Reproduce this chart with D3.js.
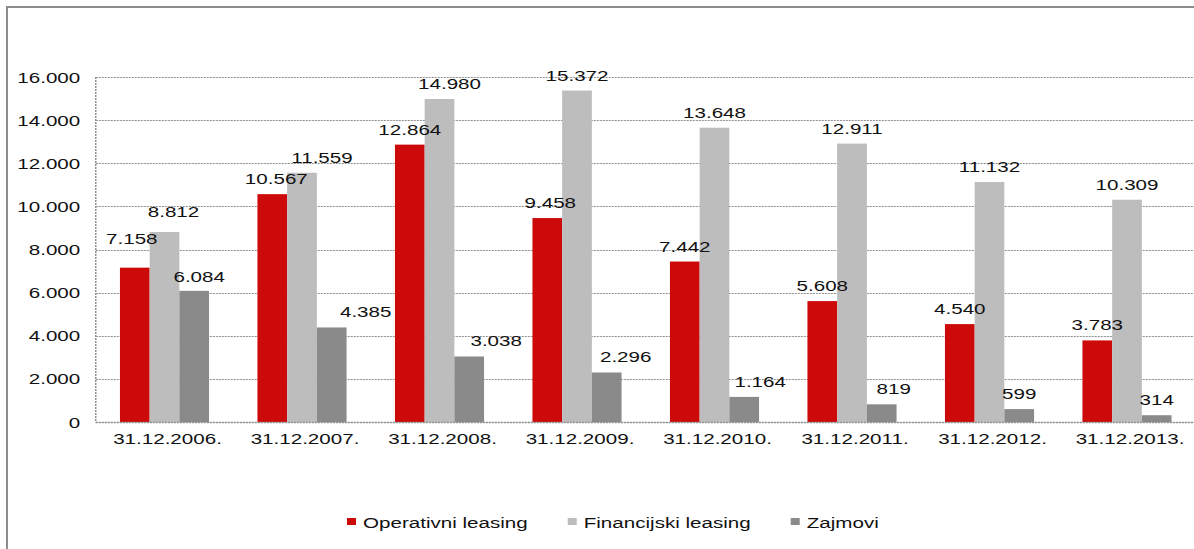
<!DOCTYPE html>
<html>
<head>
<meta charset="utf-8">
<script src="https://cdnjs.cloudflare.com/ajax/libs/d3/7.8.5/d3.min.js"></script>
<style>
  html, body { margin: 0; padding: 0; background: #fff; }
  svg { display: block; }
  text { font-family: "Liberation Sans", Arial, sans-serif; fill: #111; }
</style>
</head>
<body>
<svg id="chart" width="1194" height="549"></svg>
<script>
// Stanje portfelja po godinama
const categories = ["31.12.2006.", "31.12.2007.", "31.12.2008.", "31.12.2009.",
                    "31.12.2010.", "31.12.2011.", "31.12.2012.", "31.12.2013."];
const seriesNames = ["Operativni leasing", "Financijski leasing", "Zajmovi"];
const operativni  = [7158, 10567, 12864, 9458, 7442, 5608, 4540, 3783];
const financijski = [8812, 11559, 14980, 15372, 13648, 12911, 11132, 10309];
const zajmovi     = [6084, 4385, 3038, 2296, 1164, 819, 599, 314];
const yTicks      = [0, 2000, 4000, 6000, 8000, 10000, 12000, 14000, 16000];

const colors = ["#cc0a0a", "#bdbdbd", "#8a8a8a"];
const series = [operativni, financijski, zajmovi];

// hand-placed label offsets [dx, dy] (series-category) where labels were moved
const labelNudge = {
  "0-0": [-3, -14], "1-0": [9, -5], "2-0": [5, 1],
  "0-1": [4, 0], "1-1": [20, 0], "2-1": [34, 0],
  "1-2": [10, 0], "2-2": [27, 0],
  "0-3": [3, 0], "2-3": [19, 0],
  "2-4": [16, 0],
  "2-5": [12, 0]
};

// Brojevi s točkom kao separatorom tisućica
const fmt = d3.formatLocale({ decimal: ",", thousands: ".", grouping: [3], currency: ["", " kn"] }).format(",d");

const svg = d3.select("#chart");
const stretch = 1.42;       // horizontally widened lettering
const fontSize = 14.5;

const margin = { left: 95.75, top: 77, bottom: 422 };
const plotRight = margin.left + 137.5 * categories.length;

// okvir grafikona
svg.append("rect")
  .attr("x", 7).attr("y", 7).attr("width", 1300).attr("height", 700)
  .attr("fill", "none").attr("stroke", "#8c8c8c").attr("stroke-width", 2);

const x = d3.scaleBand().domain(categories).range([margin.left, plotRight]).paddingInner(0).paddingOuter(0);
const y = d3.scaleLinear().domain([0, 16000]).range([margin.bottom, margin.top]);
const barW = 29.7;
const xs = d3.scaleBand().domain(d3.range(series.length))
  .range([0, barW * series.length]);

// gridlines
svg.append("g").selectAll("line").data(yTicks).join("line")
  .attr("x1", margin.left).attr("x2", plotRight)
  .attr("y1", d => Math.round(y(d)) + 0.5).attr("y2", d => Math.round(y(d)) + 0.5)
  .attr("stroke", "#8f8f8f").attr("stroke-width", 1.2)
  .attr("stroke-dasharray", "2,1");

// left axis line
svg.append("line")
  .attr("x1", margin.left).attr("x2", margin.left)
  .attr("y1", y(16000)).attr("y2", y(0))
  .attr("stroke", "#8f8f8f").attr("stroke-width", 1.5)
  .attr("stroke-dasharray", "2,1");

// y tick labels
const yAxis = d3.axisLeft(y).tickValues(yTicks).tickFormat(fmt).tickSize(0);
const yg = svg.append("g").attr("transform", `translate(${margin.left},0)`).call(yAxis);
yg.select(".domain").remove();
yg.selectAll(".tick text").each(function () {
  const t = d3.select(this);
  t.attr("x", 0).attr("y", 0).attr("dy", "0.35em")
   .attr("transform", `translate(-15.5,0) scale(${stretch},1)`)
   .attr("fill", "#111").attr("font-family", null).attr("font-size", null)
   .style("font-size", fontSize + "px");
});

// category labels
const xAxis = d3.axisBottom(x).tickSize(0).tickPadding(0);
const xg = svg.append("g").attr("transform", `translate(0,${margin.bottom})`).call(xAxis);
xg.select(".domain").remove();
xg.selectAll(".tick text").each(function () {
  d3.select(this).attr("y", 0).attr("dy", 0)
    .attr("transform", `translate(3,22) scale(${stretch},1)`)
    .attr("fill", "#111").attr("font-family", null).attr("font-size", null)
    .style("font-size", fontSize + "px");
});

// bars
const groups = svg.append("g").selectAll("g").data(categories).join("g")
  .attr("transform", d => `translate(${x(d) + (x.bandwidth() - barW * series.length) / 2},0)`);

const cells = (c, i) => series.map((s, k) => ({ k, i, v: s[i] }));

groups.selectAll("rect")
  .data(cells)
  .join("rect")
  .attr("x", d => xs(d.k))
  .attr("width", xs.bandwidth())
  .attr("y", d => y(d.v))
  .attr("height", d => y(0) - y(d.v))
  .attr("fill", d => colors[d.k]);

// value labels
groups.selectAll("text.val")
  .data(cells)
  .join("text")
  .attr("class", "val")
  .attr("text-anchor", "middle")
  .style("font-size", fontSize + "px")
  .attr("transform", d => {
    const [dx, dy] = labelNudge[`${d.k}-${d.i}`] || [0, 0];
    return `translate(${xs(d.k) + xs.bandwidth() / 2 + dx},${y(d.v) - 10 + dy}) scale(${stretch},1)`;
  })
  .text(d => fmt(d.v));

// bottom axis line (drawn over bars)
svg.append("line")
  .attr("x1", margin.left).attr("x2", plotRight)
  .attr("y1", Math.round(y(0)) + 0.5).attr("y2", Math.round(y(0)) + 0.5)
  .attr("stroke", "#8f8f8f").attr("stroke-width", 1.5)
  .attr("stroke-dasharray", "2,1");

// legend
const legend = svg.append("g").attr("transform", "translate(347,0)");
let lx = 0;
seriesNames.forEach((name, k) => {
  legend.append("rect")
    .attr("x", lx).attr("y", 518).attr("width", 9).attr("height", 7)
    .attr("fill", colors[k]);
  const t = legend.append("text")
    .attr("transform", `translate(${lx + 16},528) scale(${stretch},1)`)
    .style("font-size", fontSize + "px")
    .text(name);
  lx += 16 + t.node().getComputedTextLength() * stretch + 40;
});
</script>
</body>
</html>
